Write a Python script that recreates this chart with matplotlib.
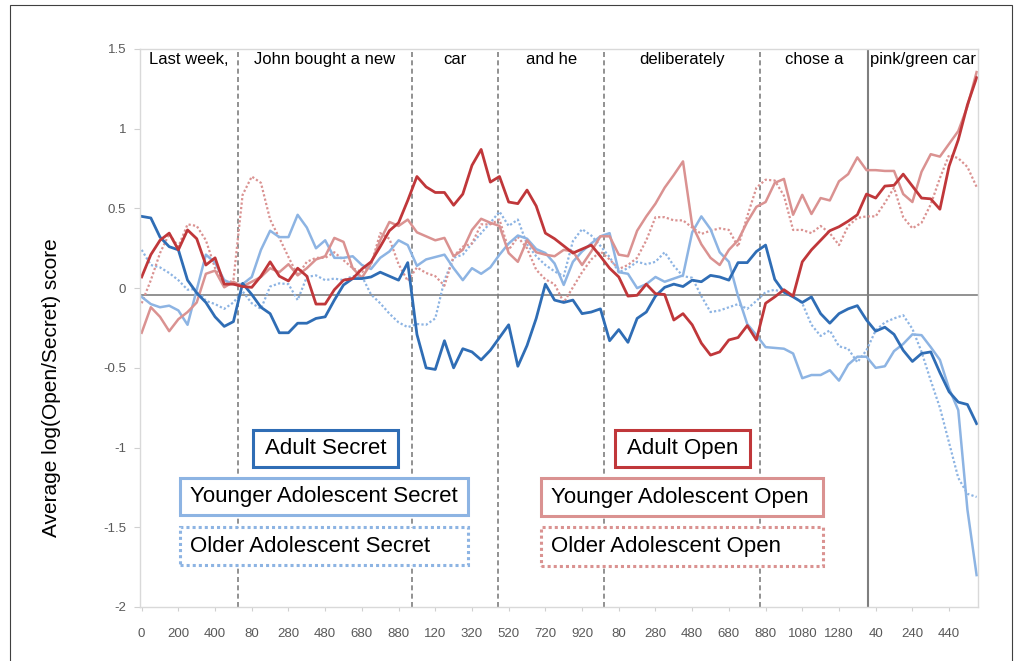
import numpy as np
import matplotlib.pyplot as plt
from matplotlib.patches import Rectangle

plt.rcParams['font.family'] = ['Liberation Sans', 'DejaVu Sans']

# sentence timeline, concatenated word windows, one sample every 50 ms
time_ms = np.arange(92) * 50

adult_secret = [
    0.45, 0.44, 0.32, 0.26, 0.24, 0.05, -0.03, -0.09, -0.18, -0.24,
    -0.21, 0.03, -0.04, -0.12, -0.16, -0.28, -0.28, -0.22, -0.22, -0.19,
    -0.18, -0.075, 0.02, 0.06, 0.06, 0.07, 0.10, 0.075, 0.05, 0.16,
    -0.29, -0.50, -0.51, -0.33, -0.50, -0.38, -0.40, -0.45, -0.39, -0.31,
    -0.23, -0.49, -0.36, -0.19, 0.025, -0.075, -0.09, -0.075, -0.16, -0.15,
    -0.13, -0.33, -0.26, -0.34, -0.19, -0.15, -0.05, 0.005, 0.025, 0.01,
    0.05, 0.04, 0.08, 0.07, 0.05, 0.16, 0.16, 0.23, 0.27, 0.055,
    -0.025, -0.055, -0.09, -0.055, -0.16, -0.22, -0.16, -0.13, -0.11, -0.20,
    -0.27, -0.245, -0.29, -0.39, -0.46, -0.41, -0.40, -0.53, -0.65, -0.715,
    -0.73, -0.85]
younger_secret = [
    -0.055, -0.10, -0.12, -0.11, -0.14, -0.23, -0.01, 0.21, 0.16, 0.05,
    0.025, 0.025, 0.07, 0.24, 0.36, 0.32, 0.32, 0.46, 0.38, 0.25,
    0.30, 0.19, 0.19, 0.20, 0.145, 0.12, 0.19, 0.23, 0.30, 0.27,
    0.14, 0.18, 0.195, 0.21, 0.125, 0.05, 0.125, 0.09, 0.13, 0.21,
    0.28, 0.33, 0.31, 0.245, 0.22, 0.155, 0.02, 0.165, 0.23, 0.28,
    0.325, 0.345, 0.10, 0.09, 0.0, 0.025, 0.07, 0.04, 0.06, 0.08,
    0.35, 0.45, 0.37, 0.225, 0.165, -0.05, -0.225, -0.295, -0.37, -0.375,
    -0.38, -0.41, -0.565, -0.545, -0.545, -0.515, -0.58, -0.48, -0.43, -0.43,
    -0.50, -0.49, -0.395, -0.35, -0.29, -0.295, -0.37, -0.45, -0.63, -0.765,
    -1.39, -1.80]
older_secret = [
    0.24, 0.145, 0.13, 0.095, 0.05, -0.01, -0.005, -0.08, -0.10, -0.13,
    -0.09, -0.02, -0.095, -0.13, 0.01, 0.03, 0.025, -0.075, 0.07, 0.08,
    0.05, 0.06, 0.05, 0.075, 0.075, -0.04, -0.095, -0.16, -0.215, -0.245,
    -0.225, -0.23, -0.19, 0.05, 0.19, 0.21, 0.28, 0.345, 0.41, 0.48,
    0.39, 0.43, 0.275, 0.20, 0.145, 0.105, 0.075, 0.295, 0.37, 0.33,
    0.265, 0.195, 0.10, 0.125, 0.165, 0.15, 0.165, 0.225, 0.14, 0.075,
    0.065, -0.05, -0.15, -0.14, -0.12, -0.10, -0.13, -0.08, -0.025, -0.01,
    -0.03, -0.05, -0.095, -0.23, -0.30, -0.265, -0.365, -0.38, -0.465, -0.39,
    -0.265, -0.215, -0.19, -0.17, -0.255, -0.40, -0.58, -0.75, -0.97, -1.19,
    -1.29, -1.31]
adult_open = [
    0.07, 0.21, 0.30, 0.345, 0.24, 0.365, 0.31, 0.145, 0.19, 0.025,
    0.025, 0.01, 0.005, 0.075, 0.165, 0.075, 0.045, 0.125, 0.075, -0.10,
    -0.10, -0.01, 0.05, 0.06, 0.12, 0.165, 0.26, 0.36, 0.41, 0.55,
    0.70, 0.635, 0.60, 0.60, 0.52, 0.59, 0.77, 0.87, 0.665, 0.70,
    0.54, 0.53, 0.615, 0.515, 0.345, 0.31, 0.265, 0.22, 0.245, 0.27,
    0.20, 0.125, 0.07, -0.05, -0.045, 0.025, -0.035, -0.04, -0.20, -0.16,
    -0.23, -0.345, -0.42, -0.40, -0.325, -0.31, -0.235, -0.325, -0.095, -0.055,
    -0.01, -0.05, 0.165, 0.24, 0.30, 0.36, 0.385, 0.42, 0.46, 0.59,
    0.565, 0.64, 0.645, 0.715, 0.64, 0.565, 0.56, 0.495, 0.765, 0.93,
    1.15, 1.32]
younger_open = [
    -0.28, -0.12, -0.18, -0.27, -0.195, -0.15, -0.09, 0.09, 0.11, 0.005,
    0.04, 0.01, 0.04, 0.07, 0.125, 0.10, 0.15, 0.08, 0.125, 0.18,
    0.20, 0.315, 0.29, 0.125, 0.065, 0.155, 0.30, 0.415, 0.39, 0.43,
    0.35, 0.325, 0.30, 0.315, 0.20, 0.24, 0.365, 0.435, 0.41, 0.39,
    0.22, 0.165, 0.30, 0.225, 0.21, 0.20, 0.24, 0.23, 0.145, 0.23,
    0.325, 0.325, 0.21, 0.20, 0.36, 0.45, 0.53, 0.63, 0.71, 0.795,
    0.395, 0.275, 0.19, 0.145, 0.24, 0.30, 0.415, 0.51, 0.54, 0.66,
    0.685, 0.46, 0.585, 0.465, 0.565, 0.55, 0.67, 0.715, 0.82, 0.74,
    0.74, 0.735, 0.735, 0.59, 0.54, 0.73, 0.84, 0.825, 0.905, 0.985,
    1.14, 1.355]
older_open = [
    -0.095, 0.05, 0.22, 0.34, 0.26, 0.40, 0.39, 0.30, 0.125, 0.02,
    0.05, 0.585, 0.70, 0.66, 0.43, 0.315, 0.195, 0.08, 0.165, 0.19,
    0.19, 0.225, 0.175, 0.125, 0.10, 0.145, 0.345, 0.31, 0.15, 0.045,
    0.13, 0.095, 0.075, 0.015, 0.20, 0.26, 0.28, 0.40, 0.40, 0.43,
    0.24, 0.32, 0.25, 0.115, 0.055, 0.025, -0.09, 0.005, 0.10, 0.18,
    0.23, 0.18, 0.12, 0.145, 0.19, 0.30, 0.445, 0.445, 0.425, 0.425,
    0.38, 0.34, 0.36, 0.375, 0.365, 0.26, 0.45, 0.63, 0.68, 0.675,
    0.58, 0.365, 0.365, 0.345, 0.39, 0.345, 0.27, 0.39, 0.44, 0.45,
    0.45, 0.535, 0.63, 0.445, 0.375, 0.41, 0.525, 0.69, 0.835, 0.815,
    0.76, 0.635]

# word windows on the same timeline (ms)
words = ['Last week,', 'John bought a new', 'car', 'and he',
         'deliberately', 'chose a', 'pink/green car']
word_edges = [-9, 525, 1473, 1942, 2520, 3370, 3958, 4559]
noun_onset = 3958

tick_pos = np.arange(0, 4401, 200)
tick_labels = ['0', '200', '400', '80', '280', '480', '680', '880', '120',
               '320', '520', '720', '920', '80', '280', '480', '680', '880',
               '1080', '1280', '40', '240', '440']

dark_blue = '#2F6DB5'
light_blue = '#8DB4E3'
dark_red = '#C0373A'
light_red = '#DA9291'
dots = (0, (1, 1))

fig = plt.figure(figsize=(10.25, 6.61), dpi=100)
ax = fig.add_axes([0.1366, 0.0817, 0.8178, 0.8442])

ax.plot(time_ms, older_secret, color=light_blue, lw=1.6, ls=dots)
ax.plot(time_ms, older_open, color=light_red, lw=1.6, ls=dots)
ax.plot(time_ms, younger_secret, color=light_blue, lw=1.8)
ax.plot(time_ms, younger_open, color=light_red, lw=1.8)
ax.plot(time_ms, adult_secret, color=dark_blue, lw=2.0)
ax.plot(time_ms, adult_open, color=dark_red, lw=2.0)

ax.axhline(-0.04, color='#7F7F7F', lw=1.2, zorder=1)
for edge in word_edges[1:-2]:
    ax.axvline(edge, color='#7F7F7F', lw=1.2, ls=(0, (3, 2)), zorder=1)
ax.axvline(noun_onset, color='#7F7F7F', lw=1.5, zorder=1)

for w, a, b in zip(words, word_edges[:-1], word_edges[1:]):
    ax.text((a + b) / 2, 1.437, w, ha='center', va='center', fontsize=12)

ax.set_xlim(word_edges[0], word_edges[-1])
ax.set_ylim(-2, 1.5)
ax.set_yticks(np.arange(-2, 1.51, 0.5))
ax.set_yticklabels(['-2', '-1.5', '-1', '-0.5', '0', '0.5', '1', '1.5'])
ax.set_xticks(tick_pos)
ax.set_xticklabels(tick_labels)
ax.tick_params(axis='both', colors='#D0D0D0', labelcolor='#595959', labelsize=9.5)
ax.tick_params(axis='x', length=3, pad=12)
ax.tick_params(axis='y', length=4, pad=6)
for s in ax.spines.values():
    s.set_color('#D9D9D9')
    s.set_linewidth(1.0)

ax.set_ylabel('Average log(Open/Secret) score', fontsize=15, va='center')
ax.yaxis.set_label_coords(-0.105, 0.394)

# legend boxes (figure pixels: x0, x1, y_top, y_bottom)
boxes = [
    ('Adult Secret', (253, 398, 430, 467), dark_blue, '-', 'center'),
    ('Younger Adolescent Secret', (180, 468, 478, 515), light_blue, '-', 'left'),
    ('Older Adolescent Secret', (180, 468, 527, 565), light_blue, dots, 'left'),
    ('Adult Open', (615, 750, 430, 467), dark_red, '-', 'center'),
    ('Younger Adolescent Open', (541, 823, 478, 516), light_red, '-', 'left'),
    ('Older Adolescent Open', (541, 823, 527, 566), light_red, dots, 'left'),
]
W, H = 1025, 661
for label, (x0, x1, y0, y1), col, ls, align in boxes:
    fig.add_artist(Rectangle((x0 / W, 1 - y1 / H), (x1 - x0) / W, (y1 - y0) / H,
                             transform=fig.transFigure, fill=True, facecolor='white',
                             edgecolor=col, lw=2.2, ls=ls, zorder=5))
    tx = (x0 + x1) / 2 if align == 'center' else x0 + 10
    fig.text(tx / W, 1 - (y0 + y1) / 2 / H, label, ha=align, va='center',
             fontsize=16, zorder=6)

# outer frame of the figure (open at the bottom edge of the image)
fig.add_artist(Rectangle((10 / W, -10 / H), 1002 / W, 666 / H,
                         transform=fig.transFigure, fill=False,
                         edgecolor='#404040', lw=0.8))

fig.savefig('out.png', dpi=100)
